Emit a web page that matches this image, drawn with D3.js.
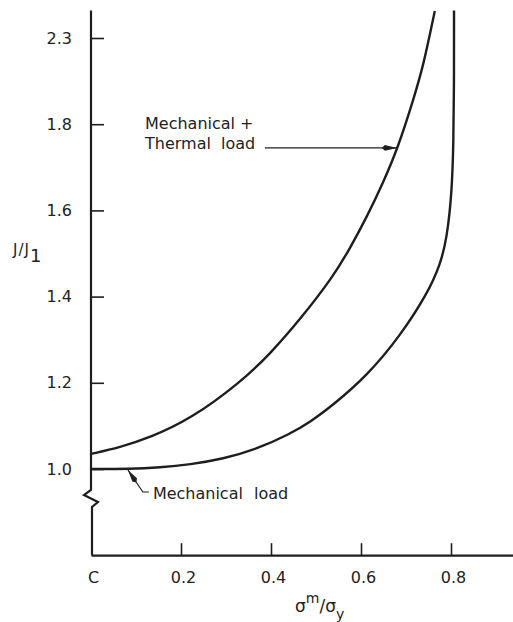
<!DOCTYPE html>
<html>
<head>
<meta charset="utf-8">
<script src="https://cdn.jsdelivr.net/npm/d3@7"></script>
<style>
  html, body { margin: 0; padding: 0; background: #fff; }
  svg { display: block; }
  text { font-family: 'DejaVu Sans', sans-serif; fill: #222; }
</style>
</head>
<body>
<script>
// tick labels as printed on the figure (top one reads 2.3)
const yTicks = [1.0, 1.2, 1.4, 1.6, 1.8, 2.3]
const xTicks = [0, 0.2, 0.4, 0.6, 0.8]
const xTickLabels = ['C', '0.2', '0.4', '0.6', '0.8']

// Mechanical load
const mechX = [0, 0.087, 0.153, 0.22, 0.293, 0.369, 0.442, 0.487, 0.538, 0.613, 0.687, 0.747, 0.776, 0.791, 0.802, 0.8055, 0.8067, 0.8067]
const mechY = [1.0, 1.0, 1.0035, 1.0104, 1.0232, 1.0464, 1.0812, 1.109, 1.1485, 1.2158, 1.3086, 1.406, 1.4733, 1.536, 1.6427, 1.7587, 1.998, 2.46]

// Mechanical + Thermal load
const thermX = [0, 0.064, 0.131, 0.22, 0.331, 0.398, 0.464, 0.538, 0.576, 0.613, 0.649, 0.682, 0.716, 0.738, 0.764]
const thermY = [1.035, 1.05, 1.073, 1.115, 1.2, 1.267, 1.346, 1.446, 1.513, 1.585, 1.664, 1.745, 1.94, 2.132, 2.457]

const W = 513
const H = 622
const X0 = 91          // pixel of x = 0
const X_PER_UNIT = 450
const Y0 = 469         // pixel of y = 1.0
const STEP = 86.2      // pixel gap between y ticks
const Y_TOP = 2.46
const INK = '#1e1e1e'

const svg = d3.select('body')
  .append('svg')
  .attr('width', W)
  .attr('height', H)

const x = d3.scaleLinear()
  .domain([0, (W - X0) / X_PER_UNIT])
  .range([X0, W])

// piecewise scale: ticks are evenly spaced although the last label jumps
const y = d3.scaleLinear()
  .domain(yTicks)
  .range(yTicks.map((d, i) => Y0 - i * STEP))

const baseY = Y0 + STEP

// y axis with break
const breakTop = Y0 + 21
const axisPath = d3.path()
axisPath.moveTo(X0, y(Y_TOP))
axisPath.lineTo(X0, breakTop)
axisPath.lineTo(X0 - 7, breakTop + 5)
axisPath.lineTo(X0 + 7, breakTop + 12)
axisPath.lineTo(X0 + 1, breakTop + 17)
axisPath.lineTo(X0 + 1, baseY)
svg.append('path')
  .attr('d', axisPath.toString())
  .attr('fill', 'none')
  .attr('stroke', INK)
  .attr('stroke-width', 2.2)

const yAxis = d3.axisLeft(y)
  .tickValues(yTicks)
  .tickFormat(d3.format('.1f'))
  .tickSizeInner(-13)
  .tickSizeOuter(0)
  .tickPadding(19)

const gy = svg.append('g')
  .attr('transform', `translate(${X0}, 0)`)
  .call(yAxis)
gy.select('.domain').remove()
gy.selectAll('line').attr('stroke', INK).attr('stroke-width', 1.6)
gy.selectAll('text')
  .attr('font-size', '16px')
  .attr('fill', '#222')
  .style('font-family', "'DejaVu Sans', sans-serif")

// x axis
const xAxis = d3.axisBottom(x)
  .tickValues(xTicks)
  .tickFormat((d, i) => xTickLabels[i])
  .tickSizeInner(-12)
  .tickSizeOuter(0)
  .tickPadding(16)

const gx = svg.append('g')
  .attr('transform', `translate(0, ${baseY})`)
  .call(xAxis)
gx.select('.domain').attr('stroke', INK).attr('stroke-width', 2.2)
gx.selectAll('line').attr('stroke', INK).attr('stroke-width', 1.6)
gx.selectAll('.tick').filter(d => d === 0).select('line').remove()
gx.selectAll('text')
  .attr('font-size', '16px')
  .attr('fill', '#222')
  .attr('dx', 2)
  .style('font-family', "'DejaVu Sans', sans-serif")

// curves (smoothed through the read-off points)
const line = d3.line()
  .x(d => x(d[0]))
  .y(d => y(d[1]))
  .curve(d3.curveBasis)

svg.append('path')
  .datum(mechX.map((d, i) => [d, mechY[i]]))
  .attr('d', line)
  .attr('fill', 'none')
  .attr('stroke', INK)
  .attr('stroke-width', 2.4)

svg.append('path')
  .datum(thermX.map((d, i) => [d, thermY[i]]))
  .attr('d', line)
  .attr('fill', 'none')
  .attr('stroke', INK)
  .attr('stroke-width', 2.4)

// arrow heads
svg.append('defs').append('marker')
  .attr('id', 'arrow')
  .attr('viewBox', '0 0 15 8')
  .attr('refX', 15)
  .attr('refY', 4)
  .attr('markerWidth', 15)
  .attr('markerHeight', 8)
  .attr('markerUnits', 'userSpaceOnUse')
  .attr('orient', 'auto')
  .append('path')
  .attr('d', 'M0,4 L3,1.2 L15,4 L3,6.8 Z')
  .attr('fill', INK)

// Mechanical + Thermal label
const tipT = [x(0.682) - 1, y(1.745)]
svg.append('path')
  .attr('d', `M${tipT[0] - 132},${tipT[1]} L${tipT[0]},${tipT[1]}`)
  .attr('stroke', INK)
  .attr('stroke-width', 1.2)
  .attr('fill', 'none')
  .attr('marker-end', 'url(#arrow)')

svg.append('text')
  .attr('x', 145)
  .attr('y', tipT[1] - 19)
  .attr('font-size', '16px')
  .text('Mechanical +')
svg.append('text')
  .attr('x', 145)
  .attr('y', tipT[1] + 1)
  .attr('font-size', '16px')
  .attr('word-spacing', '5px')
  .text('Thermal load')

// Mechanical load label
const tipM = [x(0.082), y(1.0) + 1]
svg.append('path')
  .attr('d', `M${tipM[0] + 21},${tipM[1] + 22} L${tipM[0] + 15},${tipM[1] + 22} L${tipM[0]},${tipM[1]}`)
  .attr('stroke', INK)
  .attr('stroke-width', 1.2)
  .attr('fill', 'none')
  .attr('marker-end', 'url(#arrow)')

svg.append('text')
  .attr('x', tipM[0] + 25)
  .attr('y', tipM[1] + 29)
  .attr('font-size', '16px')
  .attr('word-spacing', '6px')
  .text('Mechanical load')

// axis titles
const yTitle = svg.append('text')
  .attr('x', 13)
  .attr('y', 255)
  .attr('font-size', '15px')
  .attr('letter-spacing', '1px')
yTitle.append('tspan').text('J/J')
yTitle.append('tspan')
  .attr('font-size', '18px')
  .attr('letter-spacing', '0px')
  .attr('dy', 7)
  .text('1')

const xTitle = svg.append('text')
  .attr('x', 295)
  .attr('y', 612)
  .attr('font-size', '17px')
xTitle.append('tspan').text('σ')
xTitle.append('tspan').attr('font-size', '14px').attr('dy', -9).text('m')
xTitle.append('tspan').attr('dy', 9).text('/σ')
xTitle.append('tspan').attr('font-size', '14px').attr('dy', 7).text('y')
</script>
</body>
</html>
